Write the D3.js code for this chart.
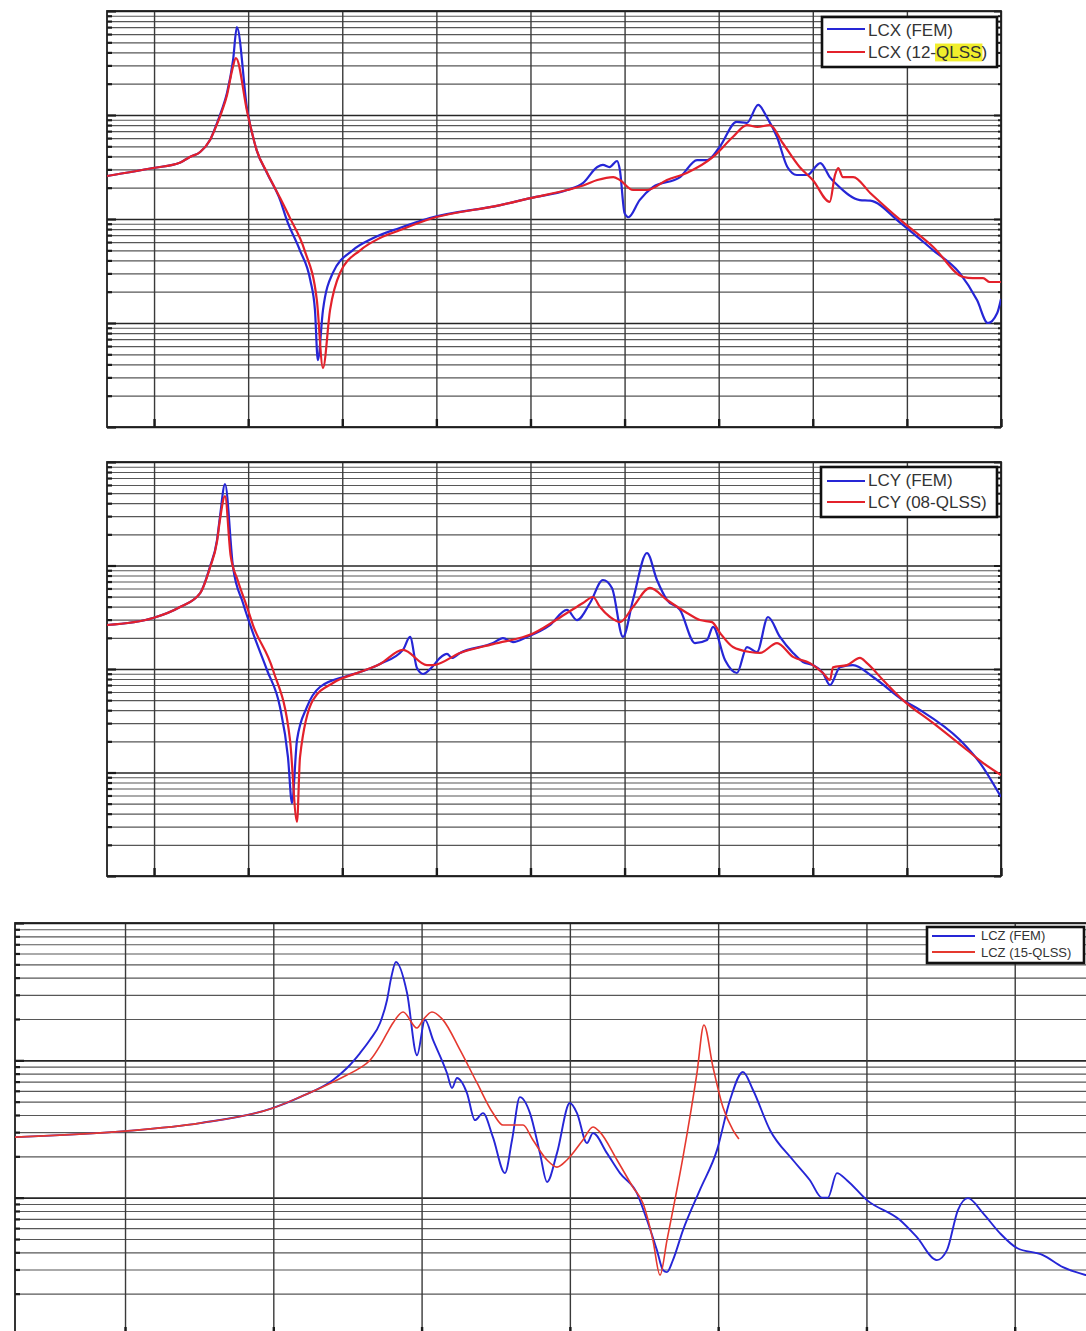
<!DOCTYPE html>
<html>
<head>
<meta charset="utf-8">
<script src="https://cdn.jsdelivr.net/npm/d3@7/dist/d3.min.js"></script>
<style>
  html, body { margin: 0; padding: 0; background: #fff; }
  svg { display: block; }
  .legend text { font-family: "Liberation Sans", Arial, Helvetica, sans-serif; fill: #333; }
</style>
</head>
<body>
<svg id="fig" width="1086" height="1331"></svg>
<script>
// Receptance magnitude vs. frequency: [frequency (Hz), |H|]

// LCX: FEM reference and 12-term QLSS model
const lcxFem = [
  [50,2.59e-2],[99,3.09e-2],[128,3.5e-2],[138,3.95e-2],[149,4.41e-2],[159.5,5.75e-2],[167,8.4e-2],[172,0.112],[177.5,0.163],[184,0.338],[188,0.70],
  [199,0.112],[209,4.6e-2],[220,2.77e-2],[234,1.52e-2],[241,9.8e-3],[255,5.0e-3],[266,2.59e-3],[271,1.33e-3],[274,4.4e-4],
  [279.5,1.33e-3],[290,3.03e-3],[311,5.0e-3],[333,6.56e-3],[361,8.2e-3],[393,1.02e-2],[468,1.36e-2],[500,1.59e-2],
  [539,1.9e-2],[556,2.22e-2],[571,3.16e-2],[577,3.31e-2],[584,3.16e-2],[592,3.61e-2],[595,2.96e-2],[600,1.14e-2],
  [604,1.04e-2],[616,1.52e-2],[630,2.03e-2],[659,2.53e-2],[677,3.69e-2],[688,3.69e-2],[701,4.92e-2],[719,8.57e-2],
  [730,8.4e-2],[742,0.125],[751,9.6e-2],[762,6.14e-2],[773,3.16e-2],[783,2.65e-2],[794,2.65e-2],[808,3.45e-2],
  [818,2.53e-2],[826,2.12e-2],[850,1.52e-2],[861,1.5e-2],[893,9.2e-3],[928,5.0e-3],[956,3.03e-3],[974.5,1.66e-3],
  [986,1.0e-3],[996,1.25e-3],[1000,1.7e-3]
];
const lcxQlss = [
  [50,2.59e-2],[99,3.09e-2],[128,3.5e-2],[138,3.95e-2],[149,4.41e-2],[159.5,5.75e-2],[167,8.2e-2],[172,0.108],[177.5,0.155],[183,0.27],[187,0.353],
  [199,0.107],[209,4.6e-2],[220,2.8e-2],[234,1.59e-2],[244.5,1.02e-2],[260,5.0e-3],[273,1.66e-3],[279.5,3.69e-4],
  [287,1.33e-3],[297.6,3.03e-3],[319,5.0e-3],[340,6.56e-3],[361,7.8e-3],[393,1.0e-2],[468,1.36e-2],[500,1.59e-2],
  [539,1.9e-2],[556,2.1e-2],[571,2.37e-2],[588,2.53e-2],[595,2.37e-2],[609,1.9e-2],[624,1.9e-2],[645,2.37e-2],
  [666,2.77e-2],[694,3.95e-2],[715,6.14e-2],[730,8.0e-2],[741,7.67e-2],[754.5,8.0e-2],[768,5.38e-2],[786,3.16e-2],
  [800,2.37e-2],[818,1.46e-2],[823.6,2.65e-2],[827,3.09e-2],[832,2.53e-2],[843,2.53e-2],[861,1.78e-2],[893,9.8e-3],
  [928,5.38e-3],[960,2.77e-3],[970,2.7e-3],[981,2.7e-3],[988,2.48e-3],[1000,2.48e-3]
];

// LCY: FEM reference and 8-term QLSS model
const lcyFem = [
  [50,2.66e-2],[99,3.11e-2],[127.6,3.97e-2],[149,5.42e-2],[159.4,9.7e-2],[166.9,0.176],[170,0.294],[175.4,0.612],
  [183.9,9.7e-2],[194.5,4.34e-2],[205.1,2.23e-2],[220,9.78e-3],[233.8,4.3e-3],[242.3,1.41e-3],[246.6,5.07e-4],
  [251.9,2.06e-3],[262.5,4.3e-3],[276.3,6.7e-3],[305,8.55e-3],[318.8,9.35e-3],[340.1,1.12e-2],[364.5,1.53e-2],
  [372,2.04e-2],[379.4,1.02e-2],[385.8,8.95e-3],[395.3,1.04e-2],[403.8,1.28e-2],[411.3,1.4e-2],[416.6,1.28e-2],
  [425.1,1.43e-2],[460.2,1.78e-2],[470.8,1.99e-2],[481.4,1.82e-2],[496.3,2.04e-2],[520.7,2.66e-2],[538.8,3.72e-2],
  [549.4,2.97e-2],[563.3,4.34e-2],[577,7.24e-2],[586.6,6.07e-2],[598.3,2.04e-2],[608.9,4.64e-2],[623.8,0.132],
  [634.4,7.24e-2],[645.1,4.64e-2],[658.9,3.72e-2],[674.8,1.78e-2],[687.6,1.91e-2],[694,2.55e-2],[706.7,1.22e-2],
  [719.4,9.15e-3],[730.1,1.63e-2],[740.7,1.46e-2],[752.4,3.18e-2],[765.1,2.04e-2],[779,1.43e-2],[789.6,1.17e-2],
  [800.2,1.09e-2],[810.8,9.15e-3],[818.3,7.0e-3],[828.9,1.04e-2],[842.7,1.09e-2],[864,8.37e-3],[895.8,5.01e-3],
  [913.9,4.02e-3],[956.4,2.06e-3],[977.6,1.24e-3],[1000,5.8e-4]
];
const lcyQlss = [
  [50,2.66e-2],[99,3.11e-2],[127.6,3.97e-2],[149,5.42e-2],[159.4,9.5e-2],[166.9,0.17],[170,0.275],[175.4,0.469],
  [181.3,0.126],[188.8,7.24e-2],[198.8,3.97e-2],[205.1,2.66e-2],[226.4,9.78e-3],[244.5,2.06e-3],[251.9,3.33e-4],
  [255.1,1.41e-3],[268.9,5.01e-3],[290.1,7.33e-3],[318.8,9.35e-3],[340.1,1.12e-2],[364.5,1.53e-2],[390,1.09e-2],
  [396.4,1.09e-2],[425.1,1.43e-2],[460.2,1.74e-2],[502.7,2.2e-2],[538.8,3.48e-2],[555.8,4.34e-2],[566.4,4.96e-2],
  [573.9,3.97e-2],[584.5,3.18e-2],[595.1,2.84e-2],[608.9,3.97e-2],[627,6.07e-2],[645.1,4.64e-2],[666.3,3.48e-2],
  [680.1,2.97e-2],[692.9,2.84e-2],[701.4,2.23e-2],[715.2,1.63e-2],[733.3,1.46e-2],[743.9,1.43e-2],[762,1.78e-2],
  [779,1.31e-2],[797,1.14e-2],[810.8,9.15e-3],[818.3,7.83e-3],[821.5,1.04e-2],[836.4,1.09e-2],[850.1,1.28e-2],
  [857.6,1.14e-2],[874.6,7.83e-3],[895.8,5.01e-3],[927.7,3.01e-3],[963.8,1.65e-3],[980.8,1.24e-3],[1000,9.46e-4]
];

// LCZ: FEM reference and 15-term QLSS model (model valid up to ~515 Hz)
const lczFem = [
  [25.8,2.76e-2],[100,3.05e-2],[150.6,3.49e-2],[200,4.5e-2],[218,5.4e-2],[240.3,7.19e-2],[249.7,8.79e-2],[258.5,0.113],
  [265.2,0.141],[272,0.187],[276.7,0.275],[279.5,0.40],[282.7,0.52],[290.2,0.309],[296.9,0.109],[302.3,0.197],[307.7,0.141],
  [317.1,8.08e-2],[320.5,6.29e-2],[323.9,7.43e-2],[330.6,5.78e-2],[336,3.67e-2],[341.4,4.13e-2],[348.1,2.76e-2],
  [356.2,1.51e-2],[361,2.63e-2],[366.3,5.4e-2],[373.1,4.13e-2],[379.8,2.11e-2],[384.6,1.3e-2],[391.3,2.11e-2],
  [400,4.89e-2],[404.8,4.13e-2],[411.5,2.5e-2],[415.6,2.95e-2],[425,2.11e-2],[433.8,1.51e-2],[445.2,1.08e-2],
  [452,6.87e-3],[458.7,4.15e-3],[462.8,2.97e-3],[465.5,2.87e-3],[469.5,3.51e-3],[476.3,5.81e-3],[487.7,1.14e-2],
  [499.2,2.22e-2],[508,5.14e-2],[516.7,8.22e-2],[523.5,6.08e-2],[535,3.1e-2],[550.4,1.88e-2],[561.9,1.34e-2],
  [570,1.0e-2],[574,1.0e-2],[580.1,1.51e-2],[586.8,1.34e-2],[600.3,9.6e-3],[622.6,6.87e-3],[634,5.16e-3],
  [647.5,3.51e-3],[654.3,4.15e-3],[661.7,8.13e-3],[668.4,9.93e-3],[678.6,7.72e-3],[690,5.52e-3],[701.5,4.3e-3],
  [719,3.82e-3],[732.5,3.12e-3],[748,2.73e-3],[760,2.55e-3]
];
const lczQlss = [
  [25.8,2.76e-2],[100,3.05e-2],[150.6,3.49e-2],[200,4.5e-2],[218,5.4e-2],[240.3,6.95e-2],[249.7,7.82e-2],[258.5,8.8e-2],
  [265.2,0.1],[272,0.128],[276.7,0.158],[280.7,0.187],[287.5,0.225],[296.9,0.172],[301,0.197],[307,0.225],[314.4,0.197],
  [325.9,0.119],[337.4,6.84e-2],[348.1,4.13e-2],[354.9,3.38e-2],[368.4,3.38e-2],[375.1,2.63e-2],[384.6,1.88e-2],
  [391.3,1.67e-2],[398,1.88e-2],[408.8,2.63e-2],[415.6,3.27e-2],[420.3,3.0e-2],[431.8,1.88e-2],[442.6,1.19e-2],
  [449.3,9.1e-3],[456,4.91e-3],[460.8,2.73e-3],[465.5,4.91e-3],[476.3,1.98e-2],[485.7,8.08e-2],[490.4,0.181],
  [496.5,8.94e-2],[503.2,4.57e-2],[510,3.1e-2],[514,2.67e-2]
];

// Axis ticks (labels are not shown on these plots)
const xTicksXY = [100, 200, 300, 400, 500, 600, 700, 800, 900, 1000];
const xTicksZ = [100, 200, 300, 400, 500, 600, 700, 800];

// Legend entries
const legendLCX = ["LCX (FEM)", "LCX (12-QLSS)"];
const legendLCY = ["LCY (FEM)", "LCY (08-QLSS)"];
const legendLCZ = ["LCZ (FEM)", "LCZ (15-QLSS)"];

const BLUE = "#2626d6";
const RED = "#e3212b";

const svg = d3.select("#fig");

const panels = [
  { id: "lcx", left: 107, right: 1001, top: 11, bottom: 427, xDomain: [50, 1000], yDomain: [1e-4, 1],
    xTicks: xTicksXY, fem: lcxFem, qlss: lcxQlss, labels: legendLCX, highlight: "QLSS",
    legend: { x: 822, y: 17, w: 175, h: 50, fs: 17, line: [5, 43], rows: [12, 35], base: [19, 41], tx: 46 },
    blueW: 2.2, redW: 2.2, red: RED, rightTicks: true },
  { id: "lcy", left: 107, right: 1001, top: 462, bottom: 876, xDomain: [50, 1000], yDomain: [1e-4, 1],
    xTicks: xTicksXY, fem: lcyFem, qlss: lcyQlss, labels: legendLCY, highlight: null,
    legend: { x: 821, y: 467, w: 176, h: 50, fs: 17, line: [6, 44], rows: [14, 35], base: [19, 41], tx: 47 },
    blueW: 2.2, redW: 2.2, red: RED, rightTicks: true },
  { id: "lcz", left: 15, right: 1163, top: 923, bottom: 1335, xDomain: [25.8, 800], yDomain: [1e-3, 1],
    xTicks: xTicksZ, fem: lczFem, qlss: lczQlss, labels: legendLCZ, highlight: null,
    legend: { x: 927, y: 927, w: 157, h: 36, fs: 13, line: [5, 48], rows: [9, 25], base: [13, 30], tx: 54 },
    blueW: 1.9, redW: 1.6, red: "#e5392f", rightTicks: false }
];

function logLines(domain) {
  const lo = Math.round(Math.log10(domain[0])), hi = Math.round(Math.log10(domain[1]));
  const vals = [];
  for (let d = lo; d < hi; d++) for (let k = 1; k < 10; k++) vals.push(k * Math.pow(10, d));
  vals.push(Math.pow(10, hi));
  return vals;
}
const isDecade = v => Math.abs(Math.log10(v) - Math.round(Math.log10(v))) < 1e-9;

panels.forEach(p => {
  const x = d3.scaleLinear().domain(p.xDomain).range([p.left, p.right]);
  const y = d3.scaleLog().domain(p.yDomain).range([p.bottom, p.top]);
  const w = p.right - p.left, h = p.bottom - p.top;
  const g = svg.append("g").attr("class", "panel-" + p.id);
  const yVals = logLines(p.yDomain);

  g.append("clipPath").attr("id", "clip-" + p.id)
    .append("rect").attr("x", p.left).attr("y", p.top).attr("width", w).attr("height", h);

  // horizontal log grid
  g.append("g").attr("transform", `translate(${p.left},0)`)
    .call(d3.axisLeft(y).tickValues(yVals).tickSize(-w).tickFormat(""))
    .call(a => a.select(".domain").remove())
    .call(a => a.selectAll(".tick line")
      .attr("stroke", d => isDecade(d) ? "#262626" : "#575757")
      .attr("stroke-width", d => isDecade(d) ? 1.6 : 1.15));

  // vertical grid at x ticks
  g.append("g").attr("transform", `translate(0,${p.bottom})`)
    .call(d3.axisBottom(x).tickValues(p.xTicks).tickSize(-h).tickFormat(""))
    .call(a => a.select(".domain").remove())
    .call(a => a.selectAll(".tick line").attr("stroke", "#3a3a3a").attr("stroke-width", 1.4));

  // short inward ticks on the left (and right) edges
  g.append("g").attr("transform", `translate(${p.left},0)`)
    .call(d3.axisLeft(y).tickValues(yVals).tickSize(0).tickFormat(""))
    .call(a => a.select(".domain").remove())
    .call(a => a.selectAll(".tick line")
      .attr("x2", d => isDecade(d) ? 9 : 5)
      .attr("stroke", "#1a1a1a").attr("stroke-width", 2.2));
  if (p.rightTicks) {
    g.append("g").attr("transform", `translate(${p.right},0)`)
      .call(d3.axisRight(y).tickValues(yVals).tickFormat(""))
      .call(a => a.select(".domain").remove())
      .call(a => a.selectAll(".tick line")
        .attr("x2", d => isDecade(d) ? -7 : -3)
        .attr("stroke", "#1a1a1a").attr("stroke-width", 2));
  }
  // bottom ticks
  g.append("g").attr("transform", `translate(0,${p.bottom})`)
    .call(d3.axisBottom(x).tickValues(p.xTicks).tickSize(-8).tickFormat(""))
    .call(a => a.select(".domain").remove())
    .call(a => a.selectAll(".tick line").attr("stroke", "#1a1a1a").attr("stroke-width", 2.4));

  // plot frame
  g.append("rect").attr("x", p.left).attr("y", p.top).attr("width", w).attr("height", h)
    .attr("fill", "none").attr("stroke", "#1f1f1f").attr("stroke-width", 1.8);

  // curves
  const line = d3.line().x(d => x(d[0])).y(d => y(d[1])).curve(d3.curveMonotoneX);
  const curves = g.append("g").attr("clip-path", `url(#clip-${p.id})`);
  curves.append("path").datum(p.fem).attr("d", line)
    .attr("fill", "none").attr("stroke", BLUE).attr("stroke-width", p.blueW).attr("stroke-linejoin", "round");
  curves.append("path").datum(p.qlss).attr("d", line)
    .attr("fill", "none").attr("stroke", p.red).attr("stroke-width", p.redW).attr("stroke-linejoin", "round");

  // legend
  const L = p.legend;
  const lg = g.append("g").attr("class", "legend").attr("transform", `translate(${L.x},${L.y})`);
  lg.append("rect").attr("width", L.w).attr("height", L.h).attr("fill", "#fff")
    .attr("stroke", "#111").attr("stroke-width", 2.6);
  const colors = [BLUE, p.red];
  p.labels.forEach((lab, i) => {
    lg.append("line").attr("x1", L.line[0]).attr("x2", L.line[1])
      .attr("y1", L.rows[i]).attr("y2", L.rows[i])
      .attr("stroke", colors[i]).attr("stroke-width", 2);
    const hl = lg.append("rect").attr("fill", "#f1ee2c");
    const t = lg.append("text").attr("x", L.tx).attr("y", L.base[i])
      .attr("font-size", L.fs).text(lab);
    if (p.highlight && lab.indexOf(p.highlight) >= 0) {
      const s = lab.indexOf(p.highlight);
      const node = t.node();
      const x0 = node.getSubStringLength(0, s);
      const wHl = node.getSubStringLength(s, p.highlight.length);
      hl.attr("x", L.tx + x0 - 1).attr("y", L.base[i] - L.fs * 0.85)
        .attr("width", wHl + 2).attr("height", L.fs * 1.05);
    } else {
      hl.remove();
    }
  });
});
</script>
</body>
</html>
